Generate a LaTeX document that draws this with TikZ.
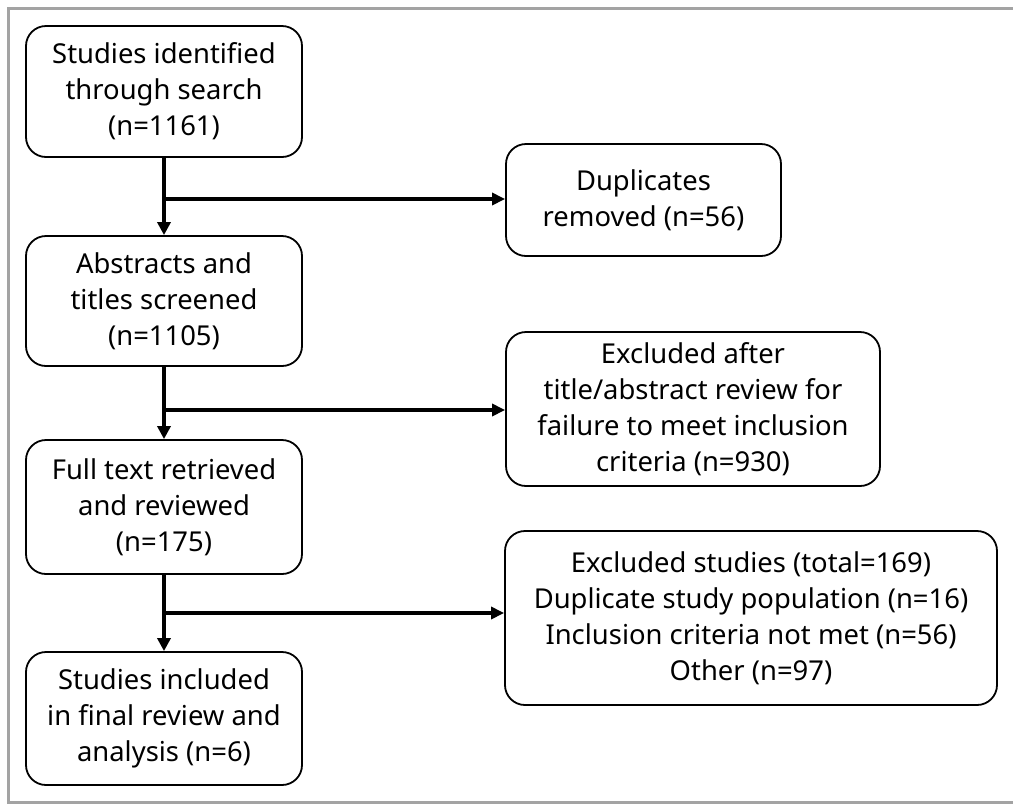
\documentclass[tikz,border=0pt]{standalone}
\usepackage{fontspec}
\setmainfont{Noto Sans}
\usetikzlibrary{arrows.meta}
\definecolor{framegray}{HTML}{A3A3A3}
\tikzset{
  flowbox/.style={draw=black, line width=1.8pt, rounded corners=20pt, align=center,
    inner sep=0pt, font=\fontsize{27.4}{36}\selectfont},
  flowarrow/.style={draw=black, line width=3.8pt, -{Triangle[length=13pt,width=13pt]}},
  branch/.style={draw=black, line width=3.5pt, -{Triangle[length=13pt,width=12pt]}}
}
\begin{document}
\begin{tikzpicture}[x=1pt,y=-1pt]
\useasboundingbox (0,0) rectangle (1013,804);
\draw[framegray, line width=3pt] (8.5,8.5) rectangle (1030,802);
% left column
\node[flowbox, minimum width=276pt, minimum height=131pt] (s1) at (164,91.5)
  {Studies identified\\through search\\(n=1161)};
\node[flowbox, minimum width=276pt, minimum height=130pt] (s2) at (164,301)
  {Abstracts and\\titles screened\\(n=1105)};
\node[flowbox, minimum width=276pt, minimum height=134pt] (s3) at (164,507)
  {Full text retrieved\\and reviewed\\(n=175)};
\node[flowbox, minimum width=276pt, minimum height=133pt] (s4) at (164,718.5)
  {Studies included\\in final review and\\analysis (n=6)};
% right column
\node[flowbox, minimum width=275pt, minimum height=112pt] (e1) at (643.5,200)
  {Duplicates\\removed (n=56)};
\node[flowbox, minimum width=374pt, minimum height=154pt] (e2) at (693,409)
  {Excluded after\\title/abstract review for\\failure to meet inclusion\\criteria (n=930)};
\node[flowbox, minimum width=492pt, minimum height=174pt] (e3) at (751,618)
  {Excluded studies (total=169)\\Duplicate study population (n=16)\\Inclusion criteria not met (n=56)\\Other (n=97)};
% branch points
\coordinate (b1) at (164,199);
\coordinate (b2) at (164,410);
\coordinate (b3) at (164,613);
% connectors
\draw[flowarrow] (s1.south) -- (s2.north);
\draw[flowarrow] (s2.south) -- (s3.north);
\draw[flowarrow] (s3.south) -- (s4.north);
\draw[branch] (b1) -- (b1 -| e1.west);
\draw[branch] (b2) -- (b2 -| e2.west);
\draw[branch] (b3) -- (b3 -| e3.west);
\end{tikzpicture}
\end{document}
